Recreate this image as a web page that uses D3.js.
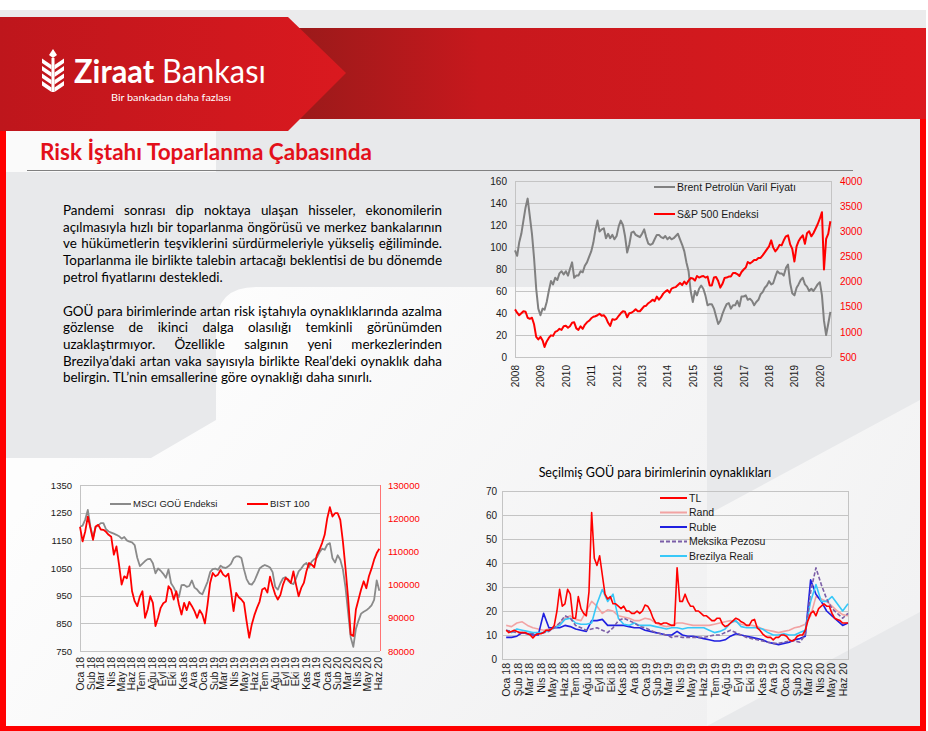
<!DOCTYPE html>
<html><head><meta charset="utf-8">
<script src="https://cdn.jsdelivr.net/npm/d3@7"></script>
<style>html,body{margin:0;padding:0;background:#fff;overflow:hidden}svg{display:block}</style>
</head><body>
<svg id="s" width="928" height="731"></svg>
<script>
// ---------------- DATA ----------------
// Chart 1: monthly, Jan 2008 .. Jun 2020
const brent = [97,92,104,112,124,136,144,128,112,90,62,44,
 38,44,43,50,60,69,66,72,70,76,78,75,
 78,74,80,86,72,74,74,78,77,83,86,91,
 96,104,115,124,114,116,117,108,112,108,111,107,
 110,119,124,120,110,95,102,113,114,111,110,109,
 112,116,109,103,102,103,107,111,111,109,108,110,
 107,109,107,108,110,112,107,102,96,86,78,60,
 50,60,56,62,65,62,56,47,48,48,44,37,
 30,33,39,44,48,49,44,47,47,51,46,55,
 55,56,52,53,51,47,50,52,57,59,63,65,
 69,66,67,73,78,76,76,74,81,84,67,58,
 56,63,66,70,72,66,64,60,62,60,63,66,
 68,56,33,20,30,41];
const spx = [1447,1380,1330,1370,1410,1400,1280,1260,1280,1150,900,850,
 900,830,700,810,880,930,920,1000,1020,1060,1040,1110,
 1120,1080,1110,1180,1190,1070,1040,1110,1060,1140,1190,1220,
 1270,1300,1310,1330,1360,1320,1330,1280,1180,1120,1250,1240,
 1260,1320,1370,1410,1400,1290,1370,1380,1410,1450,1410,1410,
 1460,1510,1520,1570,1600,1640,1610,1700,1640,1690,1760,1800,
 1830,1780,1860,1880,1890,1930,1970,1930,2000,1950,2020,2070,
 2060,2020,2110,2080,2100,2110,2080,2100,1920,1920,2080,2090,
 2010,1880,1950,2070,2080,2100,2100,2170,2170,2150,2110,2190,
 2240,2280,2390,2360,2390,2430,2430,2470,2470,2520,2580,2640,
 2700,2820,2680,2600,2650,2730,2720,2820,2900,2920,2740,2650,
 2400,2700,2800,2870,2920,2750,2960,3000,2900,2960,3050,3140,
 3250,3380,2240,2850,2950,3200];
const yearLabels = ["2008","2009","2010","2011","2012","2013","2014","2015","2016","2017","2018","2019","2020"];
const brentTicks = [0,20,40,60,80,100,120,140,160];
const spxTicks = [500,1000,1500,2000,2500,3000,3500,4000];

// Chart 2: ~weekly, Jan 2018 .. early Jun 2020
const msci = [1199,1203,1225,1260,1200,1160,1198,1204,1212,1212,
 1190,1182,1178,1174,1170,1165,1156,1162,1150,1145,
 1143,1133,1087,1057,1066,1075,1082,1083,1067,1031,
 1048,1040,1029,1015,1045,995,980,960,945,988,
 989,982,985,1005,979,972,960,955,977,1000,
 1035,1046,1048,1043,1058,1052,1050,1056,1065,1085,
 1092,1092,1086,1045,1010,993,990,1003,1025,1048,
 1056,1061,1057,1052,1035,982,972,995,1013,1017,
 1004,995,992,1012,1038,1048,1062,1068,1053,1073,
 1082,1088,1106,1120,1116,1135,1140,1085,1070,1096,
 1080,1045,980,890,800,765,830,860,885,892,
 897,905,915,935,1005,968];
const bist = [117400,113000,116000,120500,117000,113500,117500,118000,116600,116500,
 115900,115000,114400,109000,111500,106000,100000,102500,101900,105500,
 98000,95000,93500,96400,98000,90000,92500,96500,94500,87500,
 90000,93000,94400,94900,99500,98500,95500,98000,94000,91000,
 94500,92300,94800,93500,92000,90000,92300,91000,88300,94000,
 100500,103500,102500,103000,104400,103000,102400,103300,98000,92000,
 97500,96200,95500,94500,89000,84000,88000,90800,93000,94900,
 98500,99000,97600,102400,99500,97000,95500,96900,100000,102000,
 101500,100500,104000,100000,96500,99000,100500,104000,106500,106000,
 105200,108900,110500,112500,115000,120000,123300,120500,121500,121500,
 119500,113000,105000,96000,85000,84500,92500,95500,98500,101000,
 98900,102500,104800,107500,109500,110800];
const msciTicks = [750,850,950,1050,1150,1250,1350];
const bistTicks = [80000,90000,100000,110000,120000,130000];
const monthLabels2 = ["Oca 18","Sub 18","Mar 18","Nis 18","May 18","Haz 18","Tem 18","Ağu 18","Eyl 18","Eki 18","Kas 18","Ara 18",
 "Oca 19","Sub 19","Mar 19","Nis 19","May 19","Haz 19","Tem 19","Ağu 19","Eyl 19","Eki 19","Kas 19","Ara 19",
 "Oca 20","Sub 20","Mar 20","Nis 20","May 20","Haz 20"];

// Chart 3: TL weekly, others bi-weekly, from Jan 2018
const volTL = [12,11,11.5,12,11.5,11,11,11,10.5,10,
 8.8,10,10.5,10.5,11,12,12,12.5,14,20,
 29,22,23,29,27,17,17,26,21,19,
 18,28,61,42,39,43,35,27,25,26,
 23,23,22,21,22,20,20,19,19,20,
 19,20,22.5,22,20,17,15,15,14.5,15,
 15,14.5,14,14,38,24,24,27,24,22,
 22,20,20,19,18,18,17,16,16,17,
 17,14.5,13.5,14,15,16,17,16.5,15.5,15,
 14,14,16,16.5,13,12,10.5,9.5,9,9,
 8,9,9,10,10,9.5,8,7.5,8,9.5,
 10,10,12,16,19,20,18,21,22,23,
 22,22,19,17,16.5,16,15,15,15];
const volRand = [14,13.5,15,15.5,14,13,12.5,12,12.5,13,
 15,17,18,16.5,16,20,24,22,19,20.5,
 20,18,17.5,17,16,16,17,16.5,15,14,
 13.5,14,15,15,14.5,14,14,14,14,14.5,
 15,15.5,16,15.5,14.5,14,14,13.5,12.5,12,
 11.5,11,11.5,12,13,13.5,14.5,18,26,25,
 24,22,20,18.5,18];
const volRuble = [9,9,9.5,11,10.5,10,10,19,13,13,
 13,14,13.5,12.5,12,11.5,16,16,16.5,14,
 14,14,14,13.5,13,13,12,11.5,11,10.5,
 10,10,11.5,10,9.5,9.5,9,8.5,8,7.5,
 7.5,8,9.5,10.5,10,9.5,9,8.5,8,7,
 6.5,6,6.5,7,8,8.5,9.5,33,27,24,
 20,18,16,14,15];
const volMeksika = [12,11.5,11,11,10.5,10.5,10.5,11,11.5,13,
 15,18,17,14,13,12,12.5,13,12,11,
 13,16,17,16,15,13.5,13,12,11,10.5,
 10,9,9.5,9,9,9,9,9,9.5,10,
 10,11,12,11,10,9,8.5,8,7.5,7,
 6.5,6.5,7,7.5,7.5,7,10,28,38,31,
 25,21,19,17,19];
const volBrezilya = [12,11,12.5,12,11.5,11,11,11,12,13,
 14,16.5,17,15,14.5,14.5,15,23,29,24,
 27,17,14.5,14,15,14,14,14,13.5,13,
 12.5,13,13,12.5,13,13,13,13,12,11,
 11.5,12.5,15,16,13.5,13,13,13,12.5,11,
 10,10,10.5,10,10,11,12,24,31,24,
 24,26,23,20,23];
const volTicks = [0,10,20,30,40,50,60,70];
const monthLabels3 = ["Oca 18","Şub 18","Mar 18","Nis 18","May 18","Haz 18","Tem 18","Ağu 18","Eyl 18","Eki 18","Kas 18","Ara 18",
 "Oca 19","Şub 19","Mar 19","Nis 19","May 19","Haz 19","Tem 19","Ağu 19","Eyl 19","Eki 19","Kas 19","Ara 19",
 "Oca 20","Şub 20","Mar 20","Nis 20","May 20","Haz 20"];
const volSeries = [
 {name:"Rand", values:volRand, step:14, color:"#f2a3a3", dash:null},
 {name:"Ruble", values:volRuble, step:14, color:"#1f1fe0", dash:null},
 {name:"Brezilya Reali", values:volBrezilya, step:14, color:"#38c8f8", dash:null},
 {name:"Meksika Pezosu", values:volMeksika, step:14, color:"#7b5ea7", dash:"4,2"},
 {name:"TL", values:volTL, step:7, color:"#ff0000", dash:null}
];
const volLegendOrder = ["TL","Rand","Ruble","Meksika Pezosu","Brezilya Reali"];

// ---------------- DRAW ----------------
const FONT = "'Liberation Sans', Arial, sans-serif";
const BODY = "Lato, 'Open Sans', sans-serif";
const svg = d3.select("#s");
const defs = svg.append("defs");
function lin(id, x1, y1, x2, y2, stops){
  const g = defs.append("linearGradient").attr("id", id).attr("gradientUnits","userSpaceOnUse")
    .attr("x1",x1).attr("y1",y1).attr("x2",x2).attr("y2",y2);
  stops.forEach(s => g.append("stop").attr("offset", s[0]).attr("stop-color", s[1]));
}
lin("chev", 0, 0, 346, 0, [[0,"#be161c"],[1,"#da191f"]]);
lin("band", 290, 0, 928, 0, [[0,"#991a1a"],[0.3,"#c7181d"],[1,"#dc1a1f"]]);
lin("light", 216, 287, 707, 726, [[0,"#fdfdfd"],[1,"#f0f0f1"]]);
lin("light2", 707, 500, 920, 600, [[0,"#f7f7f7"],[1,"#f2f2f3"]]);

// slide background
svg.append("rect").attr("x",0).attr("y",10).attr("width",926).attr("height",30).attr("fill","#ebebec");
svg.append("rect").attr("x",0).attr("y",119).attr("width",926).attr("height",612).attr("fill","#e8e9eb");
svg.append("rect").attr("x",6).attr("y",131).attr("width",210).attr("height",41).attr("fill","#fafafa");
svg.append("path").attr("d","M256,287 L707,287 L707,726 L6,726 L6,458 L151,458 L216,420 L216,327 Q216,287 256,287 Z").attr("fill","url(#light)");
svg.append("path").attr("d","M707,515 L920,400 L920,612 L707,726 Z").attr("fill","url(#light2)");

// header
svg.append("rect").attr("x",290).attr("y",28).attr("width",636).attr("height",91).attr("fill","url(#band)");
svg.append("path").attr("d","M0,17 L288,17 L346,73 L288,131 L0,131 Z").attr("fill","url(#chev)");
// borders
svg.append("rect").attr("x",0).attr("y",131).attr("width",6).attr("height",600).attr("fill","#ff0000");
svg.append("rect").attr("x",920).attr("y",119).attr("width",6).attr("height",612).attr("fill","#ff0000");
svg.append("rect").attr("x",0).attr("y",726).attr("width",926).attr("height",5).attr("fill","#ff0000");

// logo
const logo = svg.append("g").attr("fill","#fff");
logo.append("rect").attr("x",51.5).attr("y",58).attr("width",3).attr("height",34);
[56,63.5,71,78.5].forEach(y0 => {
  logo.append("path").attr("d",`M51.5,${y0+9} L42,${y0+2.5} L42,${y0+7} L51.5,${y0+13.5} Z`);
  logo.append("path").attr("d",`M54.5,${y0+9} L64,${y0+2.5} L64,${y0+7} L54.5,${y0+13.5} Z`);
});
logo.append("path").attr("d","M53,49 L49,55 L53,58 L57,55 Z");
{
  const lg = logo.append("g");
  const lt = lg.append("text").attr("x",0).attr("y",0).attr("font-family","Lato, sans-serif").attr("font-size",28)
    .style("white-space","pre");
  lt.append("tspan").attr("font-weight",700).text("Ziraat");
  lt.append("tspan").attr("font-weight",400).text(" Bankası");
  const w = lt.node().getComputedTextLength();
  const f = 28 * 192 / w;
  lt.attr("font-size", f);
  const sy = Math.min(1.2, 23 / (0.72 * f));
  lg.attr("transform", `translate(74,83) scale(1,${sy})`);
}
logo.append("text").attr("x",111).attr("y",101).attr("font-family","Lato, sans-serif").attr("font-size",9.5)
  .attr("textLength",120).attr("lengthAdjust","spacingAndGlyphs").text("Bir bankadan daha fazlası");

// title
svg.append("text").attr("x",40).attr("y",160).attr("font-family","Lato, sans-serif").attr("font-weight",700)
  .attr("font-size",22).attr("fill","#e3101a").attr("textLength",332).attr("lengthAdjust","spacingAndGlyphs")
  .text("Risk İştahı Toparlanma Çabasında");
svg.append("line").attr("x1",27).attr("x2",853).attr("y1",170.5).attr("y2",170.5).attr("stroke","#808080").attr("stroke-width",1);

// body text
const bodyLines = [
 ["Pandemi sonrası dip noktaya ulaşan hisseler, ekonomilerin", true, 215],
 ["açılmasıyla hızlı bir toparlanma öngörüsü ve merkez bankalarının", true, 232],
 ["ve hükümetlerin teşviklerini sürdürmeleriyle yükseliş eğiliminde.", true, 248],
 ["Toparlanma ile birlikte talebin artacağı beklentisi de bu dönemde", true, 265],
 ["petrol fiyatlarını destekledi.", false, 282],
 ["GOÜ para birimlerinde artan risk iştahıyla oynaklıklarında azalma", true, 316],
 ["gözlense de ikinci dalga olasılığı temkinli görünümden", true, 332],
 ["uzaklaştırmıyor. Özellikle salgının yeni merkezlerinden", true, 349],
 ["Brezilya’daki artan vaka sayısıyla birlikte Real’deki oynaklık daha", true, 366],
 ["belirgin. TL’nin emsallerine göre oynaklığı daha sınırlı.", false, 382]
];
const BX = 63, BW = 379;
const probe = svg.append("text").attr("font-family",BODY).attr("font-size",13).attr("visibility","hidden");
let fs = 13.5;
bodyLines.forEach(l => { if (l[1]) { probe.text(l[0]); const w = probe.node().getComputedTextLength(); fs = Math.min(fs, 13*BW/w); } });
probe.remove();
const body = svg.append("g").attr("font-family",BODY).attr("font-size",fs).attr("fill","#000").style("white-space","pre");
bodyLines.forEach(l => {
  const t = body.append("text").attr("y", l[2]);
  if (!l[1]) { t.attr("x", BX).text(l[0]); return; }
  const words = l[0].split(" ");
  const spans = words.map((w,i) => t.append("tspan").text(i < words.length-1 ? w + " " : w));
  const ws = spans.map(s => s.node().getComputedTextLength());
  const extra = (BW - d3.sum(ws)) / (words.length - 1);
  let x = BX;
  spans.forEach((s,i) => { s.attr("x", x); x += ws[i] + extra; });
});

// helpers
function leftAxis(g, scale, ticks, x, pad, size, color, fmt){
  const a = g.append("g").attr("transform",`translate(${x},0)`)
    .call(d3.axisLeft(scale).tickValues(ticks).tickSize(0).tickPadding(pad).tickFormat(fmt || d3.format("d")));
  a.select(".domain").remove();
  a.attr("font-family",FONT).attr("font-size",size).style("color",color);
}
function rightAxis(g, scale, ticks, x, pad, size, color){
  const a = g.append("g").attr("transform",`translate(${x},0)`)
    .call(d3.axisRight(scale).tickValues(ticks).tickSize(0).tickPadding(pad).tickFormat(d3.format("d")));
  a.select(".domain").remove();
  a.attr("font-family",FONT).attr("font-size",size).style("color",color);
}
function bottomRot(g, scale, ticks, labels, y, gap, size){
  const a = g.append("g").attr("transform",`translate(0,${y})`)
    .call(d3.axisBottom(scale).tickValues(ticks).tickSize(0).tickFormat((d,i)=>labels[i]));
  a.select(".domain").remove();
  a.attr("font-family",FONT).attr("font-size",size).style("color","#1a1a1a");
  a.selectAll("text").attr("transform","rotate(-90)").attr("x",-gap).attr("y",0).attr("dy","0.35em").attr("text-anchor","end");
}
function grid(g, yScale, ticks, x0, x1, color){
  g.append("g").selectAll("line").data(ticks).join("line")
    .attr("x1",x0).attr("x2",x1).attr("y1",d=>Math.round(yScale(d))+0.5).attr("y2",d=>Math.round(yScale(d))+0.5)
    .attr("stroke",color).attr("stroke-width",1);
}
function legendItem(g, x1, x2, y, color, label, size, dash){
  g.append("line").attr("x1",x1).attr("x2",x2).attr("y1",y).attr("y2",y).attr("stroke",color).attr("stroke-width",2)
    .attr("stroke-dasharray",dash);
  g.append("text").attr("x",x2+2).attr("y",y).attr("dy","0.35em").attr("font-family",FONT).attr("font-size",size)
    .attr("fill","#1a1a1a").text(label);
}

// ---------- Chart 1 ----------
{
  const g = svg.append("g");
  const L=515, R=831, T=181, B=357;
  const x = d3.scaleTime().domain([new Date(2008,0,1), new Date(2020,5,10)]).range([L,R]);
  const yL = d3.scaleLinear().domain([0,160]).range([B,T]);
  const yR = d3.scaleLinear().domain([500,4000]).range([B,T]);
  const dates = brent.map((d,i)=> new Date(2008, i, 1));
  grid(g, yL, brentTicks, L, R, "#c4c4c4");
  g.append("line").attr("x1",L+0.5).attr("x2",L+0.5).attr("y1",T).attr("y2",B).attr("stroke","#c4c4c4");
  g.append("line").attr("x1",R+0.5).attr("x2",R+0.5).attr("y1",T).attr("y2",B).attr("stroke","#c4c4c4");
  g.append("path").datum(brent).attr("fill","none").attr("stroke","#808080").attr("stroke-width",2)
    .attr("stroke-linejoin","round").attr("d", d3.line().x((d,i)=>x(dates[i])).y(d=>yL(d)));
  g.append("path").datum(spx).attr("fill","none").attr("stroke","#ff0000").attr("stroke-width",2)
    .attr("stroke-linejoin","round").attr("d", d3.line().x((d,i)=>x(dates[i])).y(d=>yR(d)));
  leftAxis(g, yL, brentTicks, L, 8, 10, "#1a1a1a");
  rightAxis(g, yR, spxTicks, R, 9, 10, "#ff0000");
  bottomRot(g, x, yearLabels.map(y=>new Date(+y,0,1)), yearLabels, B, 8, 10);
  legendItem(g, 654, 675, 187, "#808080", "Brent Petrolün Varil Fiyatı", 10.5);
  legendItem(g, 654, 675, 214, "#ff0000", "S&P 500 Endeksi", 10.5);
}

// ---------- Chart 2 ----------
{
  const g = svg.append("g");
  const L=80, R=380, T=485, B=651;
  const t0 = new Date(2018,0,1), t1 = new Date(2020,5,8);
  const x = d3.scaleTime().domain([t0,t1]).range([L,R]);
  const yL = d3.scaleLinear().domain([750,1350]).range([B,T]);
  const yR = d3.scaleLinear().domain([80000,130000]).range([B,T]);
  const stepMs = (new Date(2020,5,6) - t0) / (msci.length - 1);
  const dates = msci.map((d,i)=> new Date(+t0 + i*stepMs));
  grid(g, yL, msciTicks, L, R, "#c4c4c4");
  g.append("line").attr("x1",L+0.5).attr("x2",L+0.5).attr("y1",T).attr("y2",B).attr("stroke","#c4c4c4");
  g.append("line").attr("x1",R+0.5).attr("x2",R+0.5).attr("y1",T).attr("y2",B).attr("stroke","#ff7373");
  g.append("path").datum(msci).attr("fill","none").attr("stroke","#8a8a8a").attr("stroke-width",1.8)
    .attr("stroke-linejoin","round").attr("d", d3.line().x((d,i)=>x(dates[i])).y(d=>yL(d)));
  g.append("path").datum(bist).attr("fill","none").attr("stroke","#ff0000").attr("stroke-width",1.8)
    .attr("stroke-linejoin","round").attr("d", d3.line().x((d,i)=>x(dates[i])).y(d=>yR(d)));
  leftAxis(g, yL, msciTicks, L, 8, 9.5, "#1a1a1a");
  rightAxis(g, yR, bistTicks, R, 8, 9.5, "#ff0000");
  bottomRot(g, x, monthLabels2.map((m,i)=>new Date(2018, i, 1)), monthLabels2, B, 6, 10.5);
  legendItem(g, 110, 131, 504, "#8a8a8a", "MSCI GOÜ Endeksi", 9.5);
  legendItem(g, 247, 268, 504, "#ff0000", "BIST 100", 9.5);
}

// ---------- Chart 3 ----------
{
  const g = svg.append("g");
  const L=502, R=848, T=491, B=659;
  const t0 = new Date(2018,0,1);
  const x = d3.scaleTime().domain([new Date(2017,11,21), new Date(2020,5,15)]).range([L,R]);
  const y = d3.scaleLinear().domain([0,70]).range([B,T]);
  grid(g, y, volTicks, L, R, "#c4c4c4");
  g.append("rect").attr("x",L+0.5).attr("y",T+0.5).attr("width",R-L).attr("height",B-T).attr("fill","none").attr("stroke","#c4c4c4");
  const clipId = "c3";
  defs.append("clipPath").attr("id",clipId).append("rect").attr("x",L).attr("y",T-5).attr("width",R-L+1).attr("height",B-T+10);
  const lines = g.append("g").attr("clip-path",`url(#${clipId})`);
  volSeries.forEach(s => {
    lines.append("path").datum(s.values).attr("fill","none").attr("stroke",s.color).attr("stroke-width",1.6)
      .attr("stroke-dasharray",s.dash).attr("stroke-linejoin","round")
      .attr("d", d3.line().x((d,i)=>x(d3.timeDay.offset(t0, i*s.step))).y(d=>y(d)));
  });
  leftAxis(g, y, volTicks, L, 5, 10, "#1a1a1a");
  bottomRot(g, x, monthLabels3.map((m,i)=>new Date(2018, i, 1)), monthLabels3, B, 4, 10.5);
  volLegendOrder.forEach((n,i) => {
    const s = volSeries.find(v=>v.name===n);
    legendItem(g, 660, 687, 498 + i*14.5, s.color, n, 10.5, s.dash);
  });
  g.append("text").attr("x",655).attr("y",477).attr("text-anchor","middle").attr("font-family",BODY)
    .attr("font-size",12.5).attr("fill","#000").text("Seçilmiş GOÜ para birimlerinin oynaklıkları");
}
</script>
</body></html>
